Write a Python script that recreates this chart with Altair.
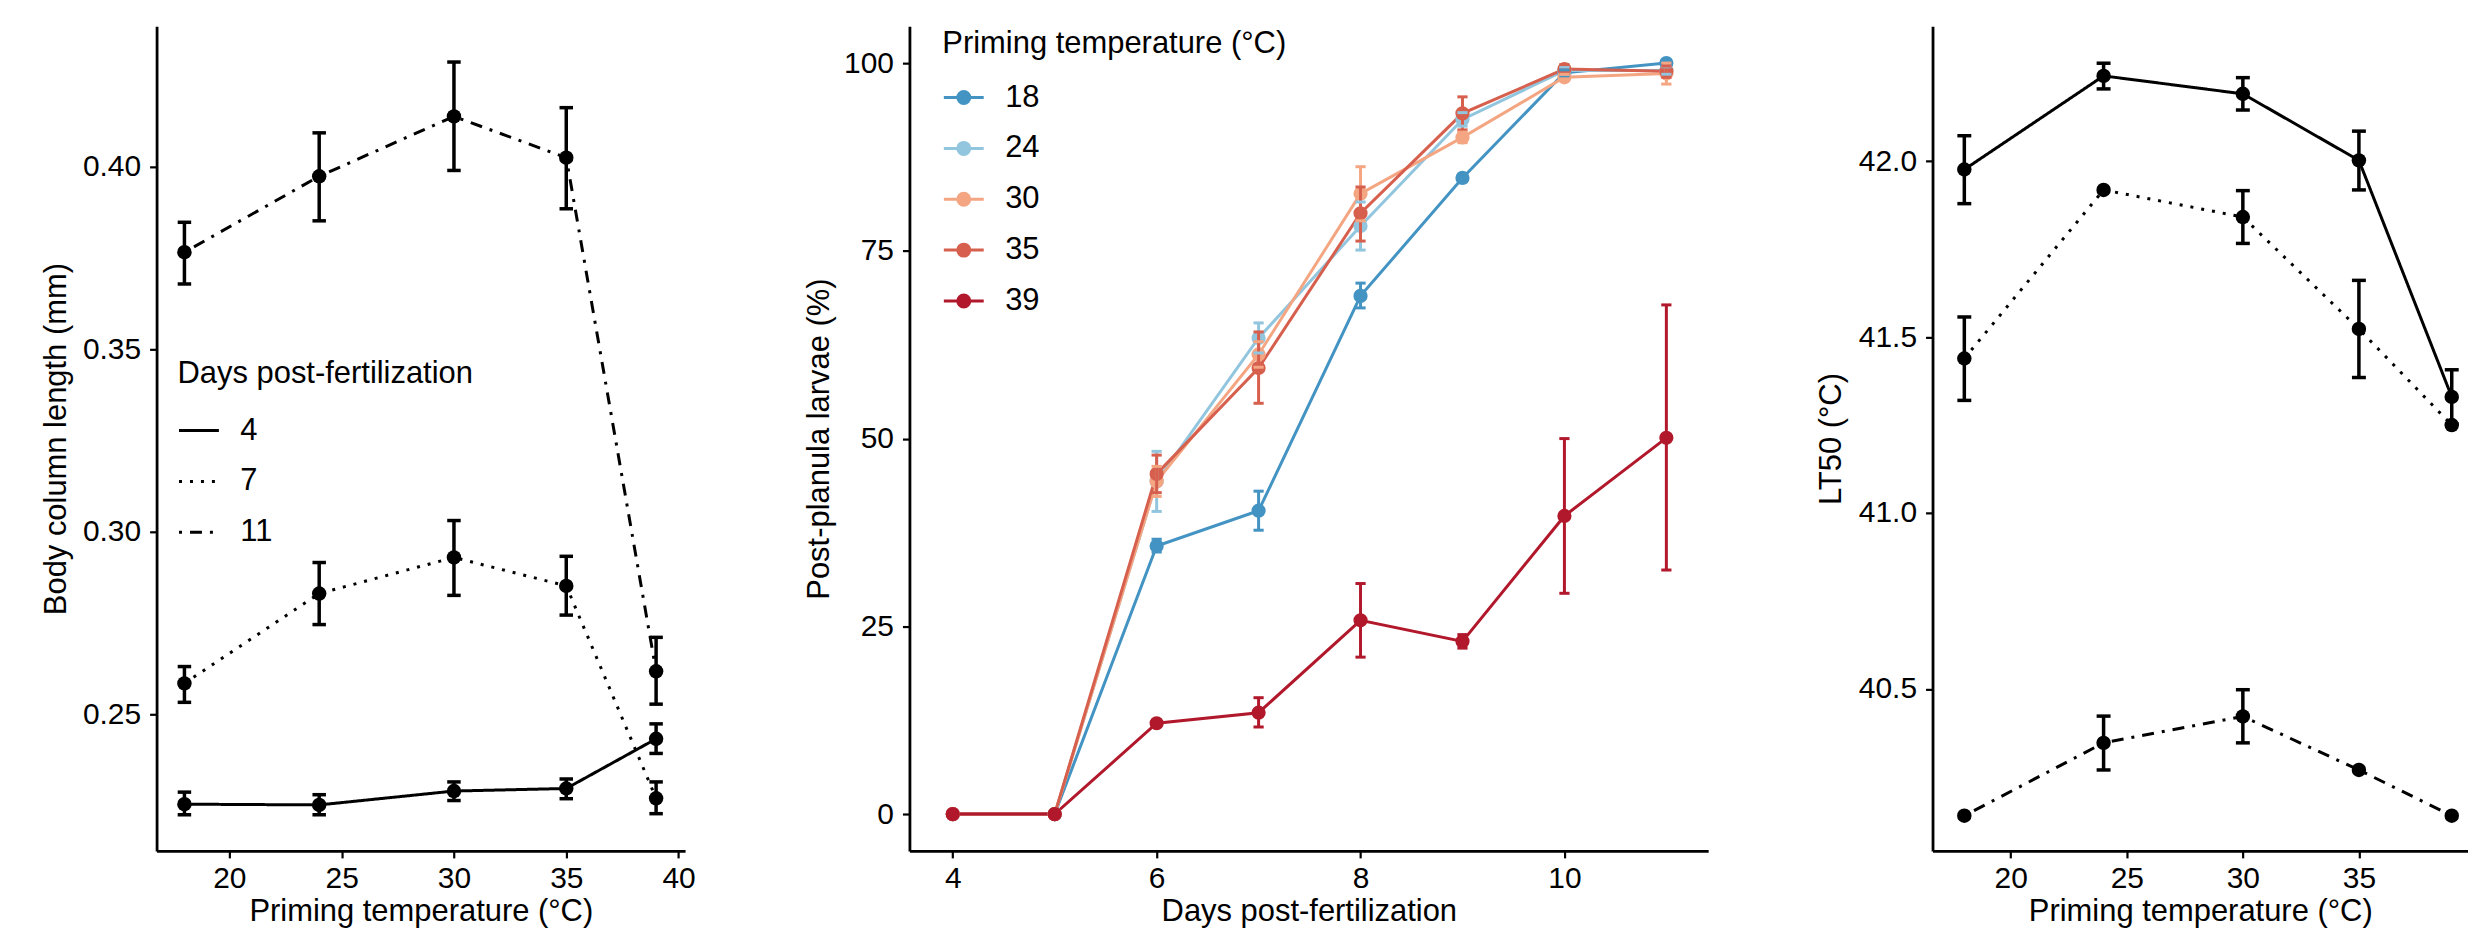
import altair as alt
import pandas as pd

FONT = "Liberation Sans"
TICK_FS = 30
TITLE_FS = 31

# ---------------- Panel A: body column length (mm) ----------------
temps = [18, 24, 30, 35, 39]
days_a = ["4", "7", "11"]
len_d4 = [0.2254, 0.2252, 0.2290, 0.2297, 0.2433]
len_d4_lo = [0.2225, 0.2225, 0.2264, 0.2269, 0.2393]
len_d4_hi = [0.2287, 0.2280, 0.2315, 0.2323, 0.2474]
len_d7 = [0.2585, 0.2831, 0.2930, 0.2852, 0.2270]
len_d7_lo = [0.2533, 0.2746, 0.2826, 0.2772, 0.2228]
len_d7_hi = [0.2631, 0.2916, 0.3031, 0.2933, 0.2315]
len_d11 = [0.3766, 0.3974, 0.4138, 0.4025, 0.2618]
len_d11_lo = [0.3679, 0.3852, 0.3990, 0.3885, 0.2528]
len_d11_hi = [0.3848, 0.4093, 0.4287, 0.4162, 0.2711]

# ---------------- Panel B: post-planula larvae (%) ----------------
days_b = [4, 5, 6, 7, 8, 9, 10, 11]
prime_temps = ["18", "24", "30", "35", "39"]
prime_colors = ["#4393C3", "#92C5DE", "#F4A582", "#D6604D", "#B2182B"]
pp18 = [0, 0, 35.7, 40.4, 69.0, 84.7, 98.7, 100.0]
pp18_lo = [None, None, 34.9, 37.8, 67.4, 84.2, 98.3, None]
pp18_hi = [None, None, 36.6, 43.0, 70.7, 85.2, 99.1, None]
pp24 = [0, 0, 44.3, 63.4, 78.3, 92.5, 99.0, 99.0]
pp24_lo = [None, None, 40.3, 61.4, 75.1, 91.6, 98.5, 98.5]
pp24_hi = [None, None, 48.3, 65.4, 81.5, 93.4, 99.5, 99.5]
pp30 = [0, 0, 44.3, 61.2, 82.6, 90.1, 98.1, 98.6]
pp30_lo = [None, None, 42.3, 59.5, 79.0, 89.4, 97.7, 97.2]
pp30_hi = [None, None, 46.3, 62.9, 86.2, 90.8, 98.5, 100.0]
pp35 = [0, 0, 45.3, 59.4, 80.0, 93.3, 99.2, 98.9]
pp35_lo = [None, None, 42.8, 54.7, 76.3, 91.1, 98.6, 98.1]
pp35_hi = [None, None, 47.8, 64.2, 83.5, 95.5, 99.8, 99.6]
pp39 = [0, 0, 12.1, 13.5, 25.8, 23.0, 39.7, 50.1]
pp39_lo = [None, None, 11.7, 11.6, 20.9, 22.1, 29.4, 32.5]
pp39_hi = [None, None, 12.5, 15.5, 30.7, 23.9, 50.0, 67.8]

# ---------------- Panel C: LT50 (°C) ----------------
lt_d4 = [41.976, 42.242, 42.191, 42.002, 41.330]
lt_d4_lo = [41.879, 42.205, 42.145, 41.918, 41.253]
lt_d4_hi = [42.072, 42.278, 42.237, 42.085, 41.407]
lt_d7 = [41.439, 41.918, 41.841, 41.523, 41.250]
lt_d7_lo = [41.320, None, 41.766, 41.385, None]
lt_d7_hi = [41.557, None, 41.916, 41.661, None]
lt_d11 = [40.140, 40.347, 40.422, 40.270, 40.140]
lt_d11_lo = [None, 40.270, 40.347, None, None]
lt_d11_hi = [None, 40.423, 40.498, None, None]

# tick labels
temp_ticks = [20, 25, 30, 35, 40]
len_ticks = [0.25, 0.30, 0.35, 0.40]
day_ticks = [4, 6, 8, 10]
pp_ticks = [0, 25, 50, 75, 100]
lt_ticks = [40.5, 41.0, 41.5, 42.0]


def long_df(xs, key, names, means, los, his):
    rows = []
    for name, m, lo, hi in zip(names, means, los, his):
        for xi, mi, l, h in zip(xs, m, lo, hi):
            rows.append({"x": xi, key: name, "mean": mi, "lo": l, "hi": h})
    return pd.DataFrame(rows)


df_a = long_df(temps, "day", days_a,
               [len_d4, len_d7, len_d11],
               [len_d4_lo, len_d7_lo, len_d11_lo],
               [len_d4_hi, len_d7_hi, len_d11_hi])
df_b = long_df(days_b, "temp", prime_temps,
               [pp18, pp24, pp30, pp35, pp39],
               [pp18_lo, pp24_lo, pp30_lo, pp35_lo, pp39_lo],
               [pp18_hi, pp24_hi, pp30_hi, pp35_hi, pp39_hi])
df_c = long_df(temps, "day", days_a,
               [lt_d4, lt_d7, lt_d11],
               [lt_d4_lo, lt_d7_lo, lt_d11_lo],
               [lt_d4_hi, lt_d7_hi, lt_d11_hi])

H = 827

axis_common = dict(
    labelFont=FONT, titleFont=FONT, labelFontSize=TICK_FS, titleFontSize=TITLE_FS,
    labelColor="black", titleColor="black", titleFontWeight="normal",
    domainColor="black", domainWidth=2.8, tickColor="black", tickWidth=2.2,
    tickSize=7, grid=False,
)


def x_axis(title, values):
    return alt.Axis(title=title, values=values, format="d", labelPadding=6,
                    titleY=61, titleBaseline="middle", **axis_common)


def y_axis(title, values, fmt, title_x):
    return alt.Axis(title=title, values=values, format=fmt, labelPadding=9,
                    titleX=title_x, titleBaseline="middle", titleAngle=270,
                    **axis_common)


legend_common = dict(
    orient="none", titleFont=FONT, labelFont=FONT, titleFontSize=TITLE_FS,
    labelFontSize=TITLE_FS, titleFontWeight="normal", titleColor="black",
    labelColor="black", symbolSize=1600, symbolStrokeWidth=3,
    rowPadding=14, labelOffset=20, padding=0,
    titleLimit=1000, labelLimit=1000,
)


def black_panel(df, xdom, width, ydom, yvals, yfmt, ytitle, title_x, legend, cap):
    xs = alt.Scale(domain=xdom, nice=False, zero=False)
    ys = alt.Scale(domain=ydom, nice=False, zero=False)
    xa = x_axis("Priming temperature (°C)", temp_ticks)
    ya = y_axis(ytitle, yvals, yfmt, title_x)
    X = lambda f: alt.X(f, scale=xs, axis=xa)
    Y = lambda f: alt.Y(f, scale=ys, axis=ya)
    dash = alt.Scale(domain=days_a, range=[[1, 0], [3, 8], [3, 8, 12, 8]])
    base = alt.Chart(df)
    line = base.mark_line(color="black", strokeWidth=3).encode(
        x=X("x:Q"), y=Y("mean:Q"),
        strokeDash=alt.StrokeDash("day:N", scale=dash, legend=legend, sort=days_a),
    )
    pts = base.mark_circle(size=210, color="black", opacity=1).encode(
        x=X("x:Q"), y=Y("mean:Q"))
    eb = base.transform_filter("isValid(datum.lo)").transform_calculate(
        xl=f"datum.x - {cap}", xr=f"datum.x + {cap}")
    bar = eb.mark_rule(color="black", strokeWidth=3.5).encode(
        x=X("x:Q"), y=Y("lo:Q"), y2="hi:Q")
    cap_lo = eb.mark_rule(color="black", strokeWidth=3.5).encode(
        x=X("xl:Q"), x2="xr:Q", y=Y("lo:Q"))
    cap_hi = eb.mark_rule(color="black", strokeWidth=3.5).encode(
        x=X("xl:Q"), x2="xr:Q", y=Y("hi:Q"))
    return alt.layer(line, pts, bar, cap_lo, cap_hi).properties(width=width, height=H)


# legends are placed relative to the first panel's plot origin
leg_a = alt.Legend(title="Days post-fertilization", legendX=21, legendY=334,
                   titlePadding=19, symbolType="stroke", symbolStrokeColor="black",
                   **legend_common)

panel_a = black_panel(df_a, [16.76, 40.29], 530, [0.2126, 0.4385], len_ticks, ".2f",
                      "Body column length (mm)", -100, leg_a, 0.3)
panel_c = black_panel(df_c, [16.63, 39.70], 537, [40.04, 42.383], lt_ticks, ".1f",
                      "LT50 (°C)", -101, None, 0.3)

# ---- panel B ----
xs_b = alt.Scale(domain=[3.575, 11.41], nice=False, zero=False)
ys_b = alt.Scale(domain=[-4.9, 104.9], nice=False, zero=False)
xa_b = x_axis("Days post-fertilization", day_ticks)
ya_b = y_axis("Post-planula larvae (%)", pp_ticks, "d", -90)
cs = alt.Scale(domain=prime_temps, range=prime_colors)
leg_b = alt.Legend(title="Priming temperature (°C)", legendX=788, legendY=3,
                   titlePadding=16,
                   symbolType="M-1,0L1,0M-0.3,0A0.3,0.3,0,1,1,0.3,0A0.3,0.3,0,1,1,-0.3,0Z",
                   **legend_common)
XB = lambda f: alt.X(f, scale=xs_b, axis=xa_b)
YB = lambda f: alt.Y(f, scale=ys_b, axis=ya_b)
SB = alt.Stroke("temp:N", scale=cs, legend=leg_b, sort=prime_temps)
FB = alt.Fill("temp:N", scale=cs, legend=leg_b, sort=prime_temps)

base_b = alt.Chart(df_b)
line_b = base_b.mark_line(strokeWidth=3).encode(x=XB("x:Q"), y=YB("mean:Q"), stroke=SB)
pts_b = base_b.mark_point(filled=True, size=150, opacity=1).encode(
    x=XB("x:Q"), y=YB("mean:Q"), fill=FB, stroke=SB)
eb_b = base_b.transform_filter("isValid(datum.lo)").transform_calculate(
    xl="datum.x - 0.05", xr="datum.x + 0.05")
bar_b = eb_b.mark_rule(strokeWidth=3).encode(x=XB("x:Q"), y=YB("lo:Q"), y2="hi:Q", stroke=SB)
caplo_b = eb_b.mark_rule(strokeWidth=3).encode(x=XB("xl:Q"), x2="xr:Q", y=YB("lo:Q"), stroke=SB)
caphi_b = eb_b.mark_rule(strokeWidth=3).encode(x=XB("xl:Q"), x2="xr:Q", y=YB("hi:Q"), stroke=SB)
panel_b = alt.layer(line_b, pts_b, bar_b, caplo_b, caphi_b).properties(width=801, height=H)

chart = alt.hconcat(panel_a, panel_b, panel_c, spacing=225, bounds="flush").properties(
    padding={"left": 33, "top": 17, "right": 0, "bottom": 0},
    background="white",
).configure_view(stroke=None)

chart.save("out.html", embed_options={"renderer": "svg", "actions": False})
